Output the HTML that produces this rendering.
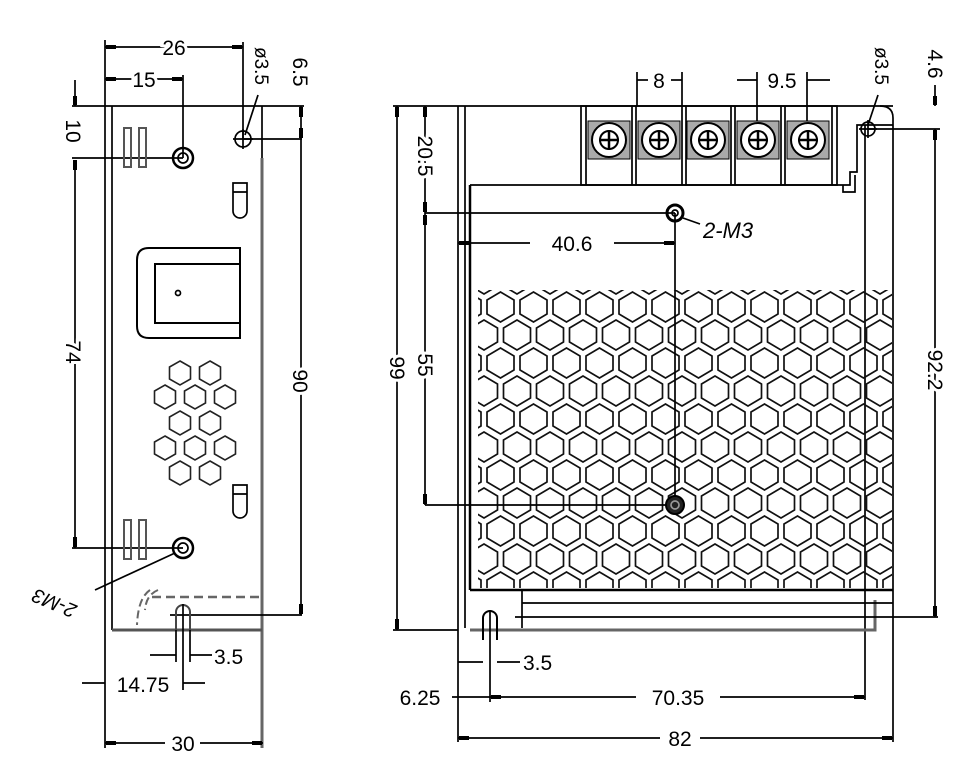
<!DOCTYPE html>
<html><head><meta charset="utf-8"><style>
html,body{margin:0;padding:0;background:#fff}
svg{display:block}
text{font-family:"Liberation Sans",sans-serif;font-size:21px;fill:#000}
</style></head><body>
<svg width="971" height="775" viewBox="0 0 971 775" xmlns="http://www.w3.org/2000/svg">
<defs>
<pattern id="hx" patternUnits="userSpaceOnUse" x="484" y="292" width="33" height="56">
<g fill="none" stroke="#111" stroke-width="1.7">
<polygon points="16.5,0 30,8 30,22 16.5,30 3,22 3,8"/>
<polygon points="0,28 13.5,36 13.5,50 0,58 -13.5,50 -13.5,36"/>
<polygon points="33,28 46.5,36 46.5,50 33,58 19.5,50 19.5,36"/>
<polygon points="0,-28 13.5,-20 13.5,-6 0,2 -13.5,-6 -13.5,-20"/>
<polygon points="33,-28 46.5,-20 46.5,-6 33,2 19.5,-6 19.5,-20"/>
<polygon points="16.5,56 30,64 30,78 16.5,86 3,78 3,64"/>
</g>
</pattern>
<g id="hs"><polygon points="0,-12 10.5,-6 10.5,6 0,12 -10.5,6 -10.5,-6" fill="none" stroke="#222" stroke-width="1.6"/></g>
<g id="screw"><rect x="-21" y="-19" width="42" height="38" fill="#aaa" stroke="#000"/><circle r="17" fill="#fff" stroke="#000" stroke-width="2"/><circle r="9" fill="none" stroke="#000" stroke-width="2"/><line x1="-10" y1="0" x2="10" y2="0" stroke="#000" stroke-width="2.5"/><line x1="0" y1="-10" x2="0" y2="10" stroke="#000" stroke-width="2.5"/></g>
</defs>
<g stroke="#000" stroke-width="1.7" fill="none">
<!-- LEFT VIEW -->
<line x1="105" y1="40" x2="105" y2="748"/>
<line x1="112" y1="106" x2="112" y2="630"/>
<line x1="72" y1="106" x2="304" y2="106"/>
<line x1="262" y1="106" x2="262" y2="158"/>
<line x1="262" y1="158" x2="262" y2="748" stroke="#666" stroke-width="3"/>
<line x1="112" y1="630" x2="262" y2="630" stroke="#555" stroke-width="3"/>
<line x1="243" y1="42" x2="243" y2="139"/>
<line x1="183" y1="75" x2="183" y2="158"/>
<line x1="105" y1="47" x2="243" y2="47"/>
<line x1="105" y1="79" x2="183" y2="79"/>
<line x1="75" y1="80" x2="75" y2="106"/>
<line x1="72" y1="158" x2="183" y2="158"/>
<line x1="72" y1="548" x2="183" y2="548"/>
<line x1="75" y1="160" x2="75" y2="548"/>
<line x1="243" y1="139" x2="302" y2="139"/>
<line x1="301" y1="106" x2="301" y2="615"/>
<line x1="170" y1="615" x2="302" y2="615"/>
<circle cx="243" cy="139" r="8"/>
<line x1="243" y1="129" x2="243" y2="149"/><line x1="233" y1="139" x2="253" y2="139"/>
<line x1="245" y1="135" x2="258" y2="95"/>
<circle cx="183" cy="158" r="10" stroke-width="2.5"/><circle cx="183" cy="158" r="5"/>
<circle cx="183" cy="548" r="10" stroke-width="2.5"/><circle cx="183" cy="548" r="5"/>
<line x1="175" y1="553" x2="95" y2="590"/>
<rect x="124" y="128" width="7" height="39" stroke="#555" stroke-width="2"/>
<rect x="139" y="128" width="7" height="39" stroke="#555" stroke-width="2"/>
<rect x="124" y="520" width="7" height="39" stroke="#555" stroke-width="2"/>
<rect x="139" y="520" width="7" height="39" stroke="#555" stroke-width="2"/>
<path d="M233,183 H247 V211 A7,7 0 0 1 233,211 Z M233,192 H247"/>
<path d="M233,485 H247 V511 A7,7 0 0 1 233,511 Z M233,494 H247"/>
<path d="M240,248 H149 Q137,248 137,260 V326 Q137,338 149,338 H240 Z" stroke-width="2"/>
<rect x="155" y="264" width="85" height="59" stroke-width="2"/>
<circle cx="178" cy="293" r="2.5"/>
<line x1="152" y1="597" x2="262" y2="597" stroke="#666" stroke-width="2.5" stroke-dasharray="9,5"/>
<path d="M158,590 Q146,595 145,610 M150,590 Q138,598 137,625" stroke="#666" stroke-width="2" stroke-dasharray="8,4"/>
<path d="M176,630 V612 A7,7 0 0 1 190,612 V630" stroke="#444" stroke-width="2"/>
<line x1="183" y1="604" x2="183" y2="690"/>
<line x1="176" y1="630" x2="176" y2="662"/><line x1="190" y1="630" x2="190" y2="662"/>
<line x1="150" y1="655" x2="176" y2="655"/><line x1="190" y1="655" x2="212" y2="655"/>
<line x1="82" y1="683" x2="105" y2="683"/><line x1="183" y1="683" x2="205" y2="683"/>
<line x1="105" y1="743" x2="165" y2="743"/><line x1="200" y1="743" x2="263" y2="743"/>
<!-- RIGHT VIEW -->
<line x1="393" y1="106" x2="893" y2="106"/>
<line x1="458" y1="106" x2="458" y2="742"/>
<line x1="465" y1="106" x2="465" y2="628"/>
<line x1="470" y1="185" x2="470" y2="590" stroke-width="2.5"/>
<path d="M470,185 H850 V172 H857 V125 H893"/>
<path d="M843,185 V192 H855 V175"/>
<path d="M880,106 Q893,106 893,118 V742"/>
<line x1="865" y1="125" x2="865" y2="700"/>
<rect x="478" y="290" width="414" height="298" fill="url(#hx)" stroke="none"/>
<line x1="470" y1="590" x2="893" y2="590" stroke-width="2.5"/>
<path d="M470,630 H875 V600" stroke="#666" stroke-width="3"/>
<line x1="522" y1="603" x2="893" y2="603"/>
<line x1="515" y1="617" x2="938" y2="617"/>
<line x1="522" y1="590" x2="522" y2="628"/>
<line x1="393" y1="630" x2="458" y2="630"/>
<rect x="581" y="106" width="256" height="79"/>
<line x1="586" y1="106" x2="586" y2="185"/><line x1="632" y1="106" x2="632" y2="185"/><line x1="636" y1="106" x2="636" y2="185"/>
<line x1="682" y1="106" x2="682" y2="185"/><line x1="686" y1="106" x2="686" y2="185"/>
<line x1="731" y1="106" x2="731" y2="185"/><line x1="735" y1="106" x2="735" y2="185"/>
<line x1="781" y1="106" x2="781" y2="185"/><line x1="785" y1="106" x2="785" y2="185"/>
<line x1="832" y1="106" x2="832" y2="185"/>
<line x1="637" y1="72" x2="637" y2="106"/><line x1="682" y1="72" x2="682" y2="106"/>
<line x1="637" y1="80" x2="648" y2="80"/><line x1="671" y1="80" x2="682" y2="80"/>
<line x1="757" y1="72" x2="757" y2="145"/><line x1="807" y1="72" x2="807" y2="145"/>
<line x1="737" y1="80" x2="757" y2="80"/><line x1="807" y1="80" x2="830" y2="80"/>
<circle cx="868" cy="129" r="7"/>
<line x1="868" y1="120" x2="868" y2="138"/><line x1="859" y1="129" x2="877" y2="129"/>
<line x1="868" y1="125" x2="878" y2="95"/>
<line x1="868" y1="129" x2="940" y2="129"/>
<line x1="935" y1="85" x2="935" y2="106"/>
<line x1="935" y1="129" x2="935" y2="617"/>
<line x1="397" y1="106" x2="397" y2="630"/>
<line x1="425" y1="106" x2="425" y2="213"/>
<line x1="425" y1="213" x2="425" y2="505"/>
<line x1="425" y1="213" x2="675" y2="213"/>
<line x1="425" y1="505" x2="675" y2="505"/>
<line x1="675" y1="213" x2="675" y2="505"/>
<line x1="458" y1="243" x2="530" y2="243"/><line x1="614" y1="243" x2="675" y2="243"/>
<line x1="683" y1="218" x2="700" y2="224"/>
<circle cx="675" cy="213" r="8" stroke-width="3"/><circle cx="675" cy="213" r="3"/>
<circle cx="675" cy="505" r="9" fill="#222" stroke-width="2"/><circle cx="675" cy="505" r="4" stroke="#999"/>
<path d="M483,640 V618 A7,7 0 0 1 497,618 V640" stroke-width="2"/>
<line x1="490" y1="610" x2="490" y2="702"/>
<line x1="458" y1="662" x2="483" y2="662"/><line x1="497" y1="662" x2="520" y2="662"/>
<line x1="452" y1="697" x2="490" y2="697"/>
<line x1="490" y1="697" x2="636" y2="697"/><line x1="720" y1="697" x2="865" y2="697"/>
<line x1="458" y1="738" x2="660" y2="738"/><line x1="700" y1="738" x2="893" y2="738"/>
</g>
<g fill="#000">
<rect x="106" y="45" width="10" height="4"/><rect x="232" y="45" width="10" height="4"/>
<rect x="106" y="77" width="10" height="4"/><rect x="172" y="77" width="10" height="4"/>
<rect x="73" y="160" width="4" height="10"/><rect x="73" y="537" width="4" height="10"/>
<rect x="73" y="96" width="4" height="9"/>
<rect x="299" y="107" width="4" height="10"/><rect x="299" y="604" width="4" height="10"/>
<rect x="299" y="128" width="4" height="10"/>
<rect x="106" y="741" width="10" height="4"/><rect x="252" y="741" width="10" height="4"/>
<rect x="395" y="107" width="4" height="10"/><rect x="395" y="619" width="4" height="10"/>
<rect x="423" y="107" width="4" height="10"/><rect x="423" y="202" width="4" height="10"/>
<rect x="423" y="215" width="4" height="10"/><rect x="423" y="494" width="4" height="10"/>
<rect x="933" y="130" width="4" height="10"/><rect x="933" y="606" width="4" height="10"/>
<rect x="933" y="96" width="4" height="9"/>
<rect x="459" y="241" width="10" height="4"/><rect x="664" y="241" width="10" height="4"/>
<rect x="459" y="736" width="10" height="4"/><rect x="882" y="736" width="10" height="4"/>
<rect x="491" y="695" width="10" height="4"/><rect x="854" y="695" width="10" height="4"/>
</g>
<g>
<use href="#screw" x="609" y="140"/><use href="#screw" x="659" y="140"/><use href="#screw" x="708" y="140"/><use href="#screw" x="758" y="140"/><use href="#screw" x="808" y="140"/>
<use href="#hs" x="180" y="373"/><use href="#hs" x="210" y="373"/>
<use href="#hs" x="165" y="397"/><use href="#hs" x="195" y="397"/><use href="#hs" x="225" y="397"/>
<use href="#hs" x="180" y="423"/><use href="#hs" x="210" y="423"/>
<use href="#hs" x="165" y="448"/><use href="#hs" x="195" y="448"/><use href="#hs" x="225" y="448"/>
<use href="#hs" x="180" y="473"/><use href="#hs" x="210" y="473"/>
</g>
<g>
<text x="174" y="55" text-anchor="middle" style="paint-order:stroke" stroke="#fff" stroke-width="6">26</text>
<text x="144" y="87" text-anchor="middle" style="paint-order:stroke" stroke="#fff" stroke-width="6">15</text>
<text transform="translate(66,131) rotate(90)" text-anchor="middle">10</text>
<text transform="translate(66,352) rotate(90)" text-anchor="middle" style="paint-order:stroke" stroke="#fff" stroke-width="6">74</text>
<text transform="translate(293,381) rotate(90)" text-anchor="middle" style="paint-order:stroke" stroke="#fff" stroke-width="6">90</text>
<text transform="translate(293,72) rotate(90)" text-anchor="middle">6.5</text>
<text transform="translate(255,66) rotate(90)" text-anchor="middle" style="font-size:19px">ø3.5</text>
<text transform="translate(57,597) rotate(-157)" text-anchor="middle" style="font-style:italic;font-size:20px">2-M3</text>
<text x="214" y="664">3.5</text>
<text x="143" y="692" text-anchor="middle">14.75</text>
<text x="183" y="751" text-anchor="middle">30</text>
<text x="659" y="88" text-anchor="middle">8</text>
<text x="782" y="88" text-anchor="middle">9.5</text>
<text transform="translate(875,66) rotate(90)" text-anchor="middle" style="font-size:19px">ø3.5</text>
<text transform="translate(928,64) rotate(90)" text-anchor="middle">4.6</text>
<text transform="translate(418,156) rotate(90)" text-anchor="middle" style="paint-order:stroke" stroke="#fff" stroke-width="6">20.5</text>
<text transform="translate(418,365) rotate(90)" text-anchor="middle" style="paint-order:stroke" stroke="#fff" stroke-width="6">55</text>
<text transform="translate(390,368) rotate(90)" text-anchor="middle" style="paint-order:stroke" stroke="#fff" stroke-width="6">99</text>
<text transform="translate(928,370) rotate(90)" text-anchor="middle" style="paint-order:stroke" stroke="#fff" stroke-width="6">92.2</text>
<text x="572" y="251" text-anchor="middle">40.6</text>
<text x="703" y="238" style="font-style:italic;font-size:22px">2-M3</text>
<text x="523" y="670">3.5</text>
<text x="420" y="705" text-anchor="middle">6.25</text>
<text x="678" y="705" text-anchor="middle">70.35</text>
<text x="680" y="746" text-anchor="middle">82</text>
</g>
</svg>
</body></html>
